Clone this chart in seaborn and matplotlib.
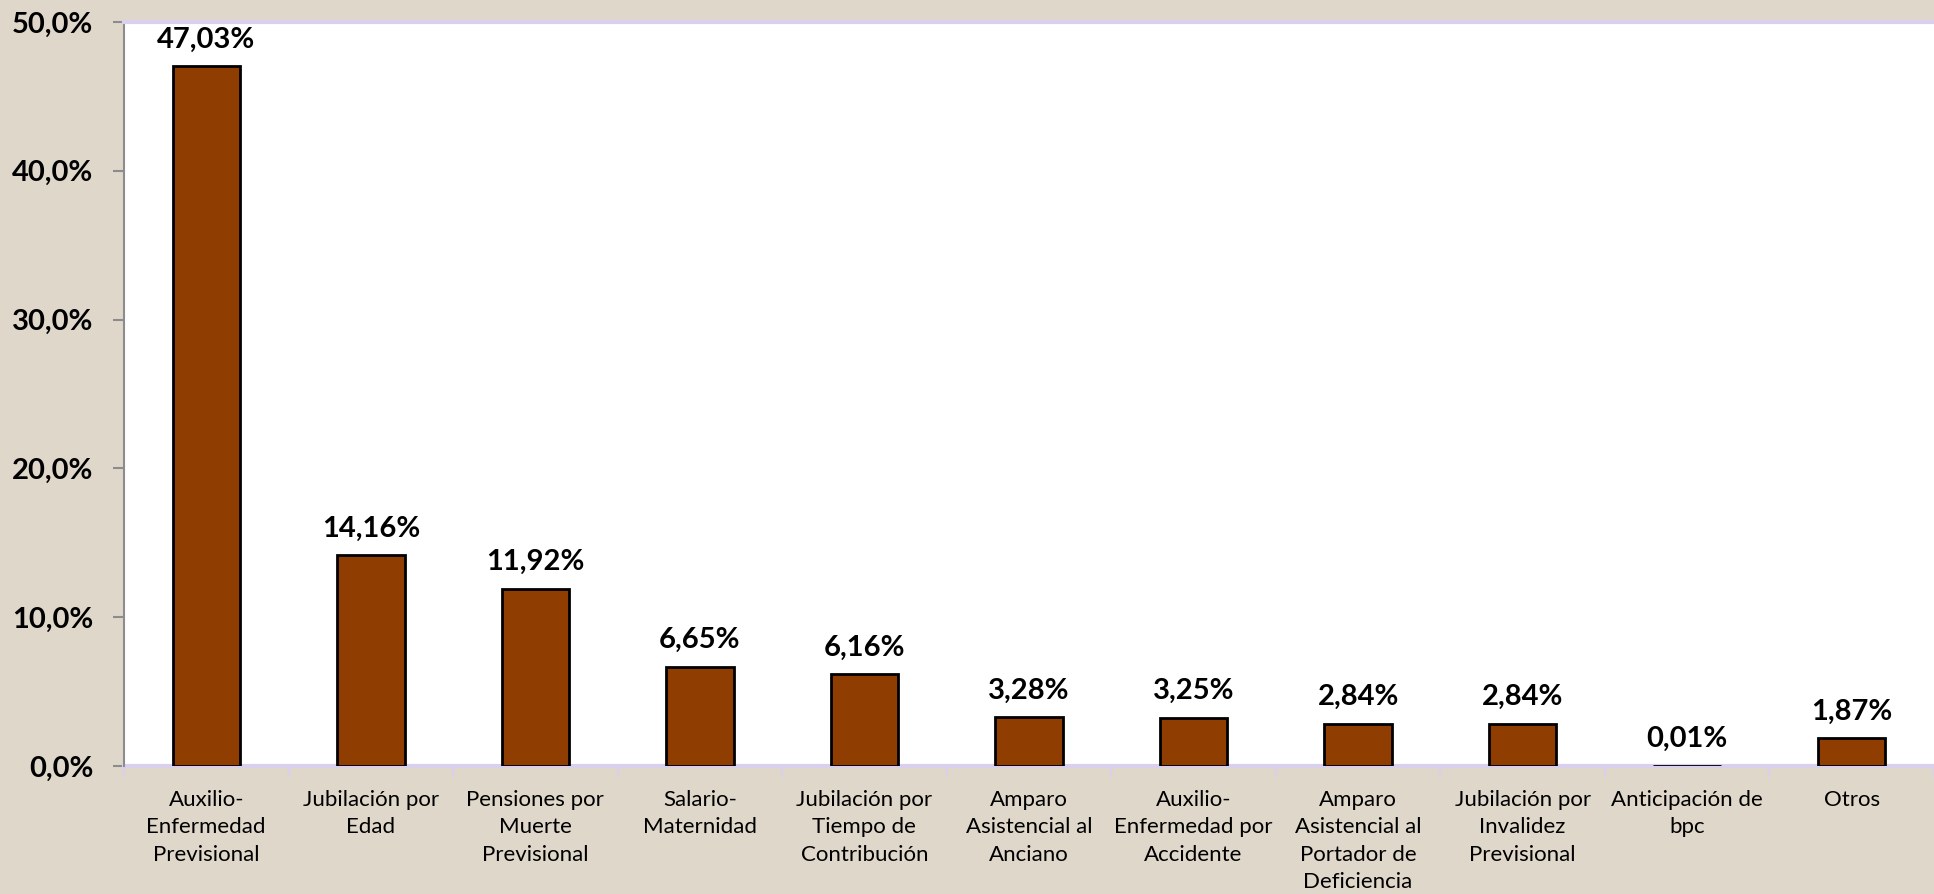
"""Distribución de beneficios: gráfico de barras con etiquetas de porcentaje."""

import matplotlib
matplotlib.use("Agg")
import matplotlib.pyplot as plt
import pandas as pd
import seaborn as sns
from matplotlib.ticker import FuncFormatter

# Datos
categorias = [
    "Auxilio-\nEnfermedad\nPrevisional",
    "Jubilación por\nEdad",
    "Pensiones por\nMuerte\nPrevisional",
    "Salario-\nMaternidad",
    "Jubilación por\nTiempo de\nContribución",
    "Amparo\nAsistencial al\nAnciano",
    "Auxilio-\nEnfermedad por\nAccidente",
    "Amparo\nAsistencial al\nPortador de\nDeficiencia",
    "Jubilación por\nInvalidez\nPrevisional",
    "Anticipación de\nbpc",
    "Otros",
]
porcentajes = [47.03, 14.16, 11.92, 6.65, 6.16, 3.28, 3.25, 2.84, 2.84, 0.01, 1.87]
y_ticks = [0, 10, 20, 30, 40, 50]

BG = "#DFD7CA"
BAR = "#8F3D00"
LAVENDER = "#D9D0EE"

sns.set_theme(style="white")
plt.rcParams["font.family"] = ["Lato", "DejaVu Sans"]
plt.rcParams["text.color"] = "black"
plt.rcParams["xtick.color"] = "black"
plt.rcParams["ytick.color"] = "black"

df = pd.DataFrame({"categoria": categorias, "pct": porcentajes})

fig = plt.figure(figsize=(19.34, 8.94), dpi=100, facecolor=BG)
ax = fig.add_axes([0.0641, 0.1432, 0.9359, 0.8322])
ax.set_facecolor("white")

sns.barplot(
    data=df, x="categoria", y="pct", color=BAR, saturation=1,
    width=0.41, edgecolor="black", linewidth=2, ax=ax, zorder=3,
)

# Etiquetas de datos
for i, v in enumerate(porcentajes):
    ax.text(i, v + 1.8, f"{v:.2f}%".replace(".", ","), ha="center", va="center",
            fontsize=21, fontweight="bold", color="black")

ax.set_ylim(0, 50)
ax.set_xlim(-0.5, len(categorias) - 0.5)
ax.set_yticks(y_ticks)
ax.yaxis.set_major_formatter(FuncFormatter(lambda v, _: f"{v:.1f}%".replace(".", ",")))
for lbl in ax.get_yticklabels():
    lbl.set_fontweight("bold")
ax.tick_params(axis="y", labelsize=21, length=8, width=1.5, color="#8C8C8C",
               direction="out", left=True, pad=14, labelcolor="black")

# Eje x: marcas entre categorías
ax.set_xticks(range(len(categorias)))
ax.set_xticklabels(categorias, fontsize=16, linespacing=1.45)
ax.tick_params(axis="x", length=0, pad=17.5, labelcolor="black")
ax.set_xticks([i + 0.5 for i in range(-1, len(categorias))], minor=True)
ax.tick_params(axis="x", which="minor", length=8, width=1.5, color=LAVENDER,
               direction="out", bottom=True)

ax.set_xlabel("")
ax.set_ylabel("")

ax.spines["left"].set_color("#8C8C8C")
ax.spines["left"].set_linewidth(1.5)
ax.spines["right"].set_visible(False)
ax.spines["top"].set_color(LAVENDER)
ax.spines["top"].set_linewidth(3)
ax.spines["bottom"].set_color(LAVENDER)
ax.spines["bottom"].set_linewidth(3)
ax.spines["bottom"].set_zorder(1)

fig.savefig("out.png", dpi=100, facecolor=BG)
